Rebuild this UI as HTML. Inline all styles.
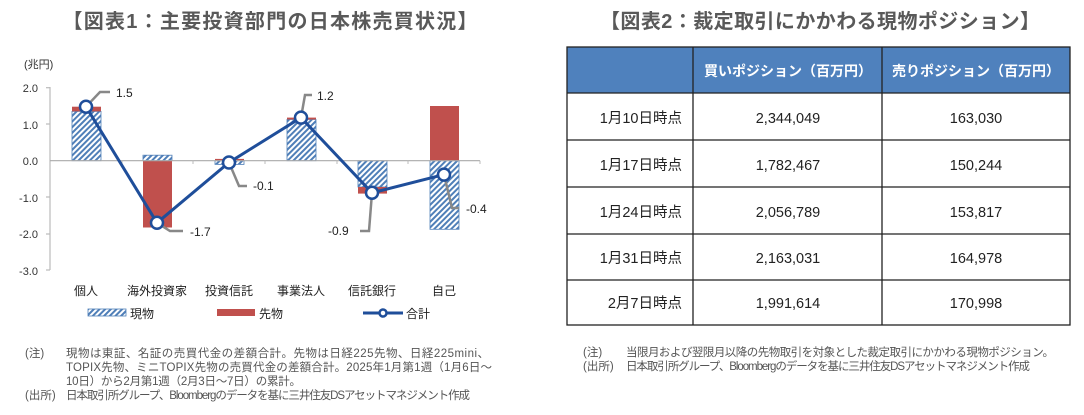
<!DOCTYPE html><html><head><meta charset="utf-8"><style>
body{margin:0;width:1084px;height:410px;background:#fff;overflow:hidden}
text{font-family:"Liberation Sans","Noto Sans CJK JP",sans-serif}
</style></head><body>
<svg width="1084" height="410" xmlns="http://www.w3.org/2000/svg">
<defs><pattern id="h" width="4" height="4" patternUnits="userSpaceOnUse" patternTransform="rotate(45)"><rect width="4" height="4" fill="#fff"/><rect width="2" height="4" fill="#4f7fb8"/></pattern></defs>
<text x="270" y="28" text-anchor="middle" font-size="20" font-weight="bold" fill="#595959" textLength="415">【図表1：主要投資部門の日本株売買状況】</text>
<text x="820" y="28" text-anchor="middle" font-size="20" font-weight="bold" fill="#595959" textLength="440">【図表2：裁定取引にかかわる現物ポジション】</text>
<g font-size="11" fill="#333">
<text x="24" y="68">(兆円)</text>
<text x="38" y="92" text-anchor="end">2.0</text><text x="38" y="129" text-anchor="end">1.0</text><text x="38" y="165" text-anchor="end">0.0</text><text x="38" y="202" text-anchor="end">-1.0</text><text x="38" y="238" text-anchor="end">-2.0</text><text x="38" y="275" text-anchor="end">-3.0</text>
</g>
<g stroke="#bbb" stroke-width="1.2"><line x1="50" y1="87" x2="50" y2="270"/><line x1="46" y1="87.7" x2="50" y2="87.7"/><line x1="46" y1="124" x2="50" y2="124"/><line x1="46" y1="270" x2="50" y2="270"/><line x1="46" y1="197" x2="50" y2="197"/><line x1="46" y1="234" x2="50" y2="234"/></g>
<g stroke="#4f7fb8" stroke-width="0.8">
<rect x="72" y="111.4" width="29" height="49.3" fill="url(#h)"/>
<rect x="143" y="155.2" width="29" height="5.5" fill="url(#h)"/>
<rect x="215" y="160.7" width="29" height="3.7" fill="url(#h)"/>
<rect x="287" y="119.5" width="29" height="41.2" fill="url(#h)"/>
<rect x="358" y="160.7" width="29" height="26.3" fill="url(#h)"/>
<rect x="430" y="160.7" width="29" height="68.6" fill="url(#h)"/>
</g>
<g fill="#c0504d">
<rect x="72" y="106.7" width="29" height="4.7"/>
<rect x="143" y="160.7" width="29" height="66.8"/>
<rect x="215" y="158.9" width="29" height="1.8"/>
<rect x="287" y="117.6" width="29" height="1.9"/>
<rect x="358" y="187" width="29" height="6.6"/>
<rect x="430" y="106" width="29" height="54.7"/>
</g>
<line x1="50" y1="160.7" x2="480" y2="160.7" stroke="#aaa" stroke-width="1.2"/>
<g stroke="#bbb"><line x1="122" y1="160.7" x2="122" y2="164"/><line x1="193" y1="160.7" x2="193" y2="164"/><line x1="265" y1="160.7" x2="265" y2="164"/><line x1="337" y1="160.7" x2="337" y2="164"/><line x1="408" y1="160.7" x2="408" y2="164"/><line x1="480" y1="160.7" x2="480" y2="164"/></g>
<g fill="none" stroke="#888" stroke-width="2.5">
<polyline points="86,106.7 100,92 110,92"/><polyline points="157,222.8 170,231 183,231"/><polyline points="229,162.5 239,186 247,186"/><polyline points="301,117.6 305,95 312,95"/><polyline points="372,192.8 369,231 360,231"/><polyline points="444,174.6 452,208 459,208"/>
</g>
<polyline points="86,106.7 157,222.8 229,162.5 301,117.6 372,192.8 444,174.6" fill="none" stroke="#1f4e9a" stroke-width="3"/>
<g fill="#fff" stroke="#1f4e9a" stroke-width="2.5">
<circle cx="86" cy="106.7" r="6"/><circle cx="157" cy="222.8" r="6"/><circle cx="229" cy="162.5" r="6"/><circle cx="301" cy="117.6" r="6"/><circle cx="372" cy="192.8" r="6"/><circle cx="444" cy="174.6" r="6"/>
</g>
<g font-size="12" fill="#222">
<text x="116" y="97">1.5</text><text x="190" y="236">-1.7</text><text x="253" y="190">-0.1</text><text x="317" y="100">1.2</text><text x="328" y="235">-0.9</text><text x="466" y="213">-0.4</text>
</g>
<g font-size="12" fill="#222" text-anchor="middle">
<text x="86" y="295">個人</text><text x="157" y="295">海外投資家</text><text x="229" y="295">投資信託</text><text x="301" y="295">事業法人</text><text x="372" y="295">信託銀行</text><text x="444" y="295">自己</text>
</g>
<rect x="88" y="309" width="38" height="7" fill="url(#h)" stroke="#4f7fb8" stroke-width="0.8"/>
<text x="130" y="318" font-size="12" fill="#222">現物</text>
<rect x="217" y="309" width="38" height="7" fill="#c0504d"/>
<text x="259" y="318" font-size="12" fill="#222">先物</text>
<line x1="363" y1="313" x2="403" y2="313" stroke="#1f4e9a" stroke-width="3"/><circle cx="383" cy="313" r="3.5" fill="#fff" stroke="#1f4e9a" stroke-width="2.5"/>
<text x="406" y="318" font-size="12" fill="#222">合計</text>
<g font-size="11.5" fill="#555">
<text x="25" y="357">(注)</text><text x="66" y="357" textLength="423">現物は東証、名証の売買代金の差額合計。先物は日経225先物、日経225mini、</text>
<text x="66" y="371" textLength="426">TOPIX先物、ミニTOPIX先物の売買代金の差額合計。2025年1月第1週（1月6日～</text>
<text x="66" y="385" textLength="235">10日）から2月第1週（2月3日～7日）の累計。</text>
<text x="25" y="399">(出所)</text><text x="66" y="399" textLength="404" lengthAdjust="spacing">日本取引所グループ、Bloombergのデータを基に三井住友DSアセットマネジメント作成</text>
<text x="583" y="356">(注)</text><text x="626" y="356" textLength="428">当限月および翌限月以降の先物取引を対象とした裁定取引にかかわる現物ポジション。</text>
<text x="583" y="370">(出所)</text><text x="626" y="370" textLength="404" lengthAdjust="spacing">日本取引所グループ、Bloombergのデータを基に三井住友DSアセットマネジメント作成</text>
</g>
<rect x="567" y="47" width="503" height="46" fill="#4f81bd"/>
<g stroke="#222" stroke-width="1.3" fill="none">
<rect x="567" y="47" width="503" height="278"/>
<line x1="693" y1="47" x2="693" y2="325"/><line x1="882" y1="47" x2="882" y2="325"/>
<line x1="567" y1="93" x2="1070" y2="93"/><line x1="567" y1="140" x2="1070" y2="140"/><line x1="567" y1="187" x2="1070" y2="187"/><line x1="567" y1="234" x2="1070" y2="234"/><line x1="567" y1="280" x2="1070" y2="280"/>
</g>
<g font-size="14" font-weight="bold" fill="#fff" text-anchor="middle"><text x="788" y="76">買いポジション（百万円）</text><text x="976" y="76">売りポジション（百万円）</text></g>
<g font-size="14.5" fill="#222">
<g text-anchor="end"><text x="682" y="123">1月10日時点</text><text x="682" y="170">1月17日時点</text><text x="682" y="217">1月24日時点</text><text x="682" y="263">1月31日時点</text><text x="682" y="308">2月7日時点</text></g>
<g text-anchor="middle"><text x="788" y="123">2,344,049</text><text x="788" y="170">1,782,467</text><text x="788" y="217">2,056,789</text><text x="788" y="263">2,163,031</text><text x="788" y="308">1,991,614</text>
<text x="976" y="123">163,030</text><text x="976" y="170">150,244</text><text x="976" y="217">153,817</text><text x="976" y="263">164,978</text><text x="976" y="308">170,998</text></g>
</g>
</svg>
</body></html>
